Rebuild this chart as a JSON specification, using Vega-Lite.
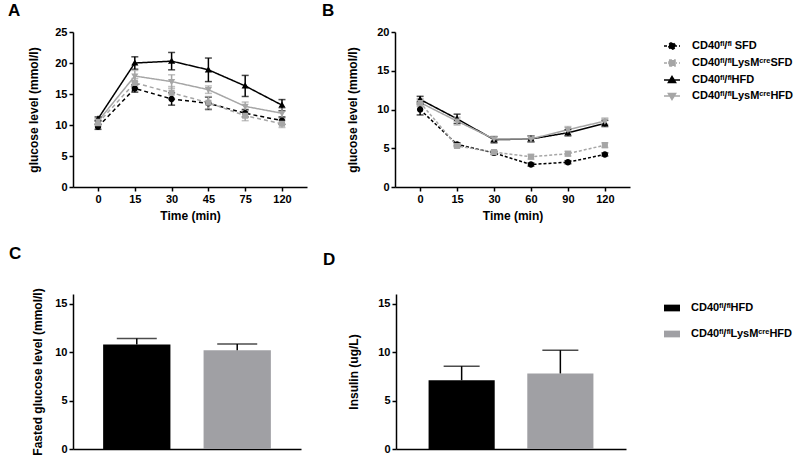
{
  "$schema": "https://vega.github.io/schema/vega-lite/v6.json",
  "background": "white",
  "padding": {"left": 8, "top": 2, "right": 5, "bottom": 5},
  "datasets": {
    "ogtt": [
      {"time": "0", "group": "CD40\u1da0\u02e1/\u1da0\u02e1 SFD", "mean": 9.7, "err": 0.4},
      {"time": "15", "group": "CD40\u1da0\u02e1/\u1da0\u02e1 SFD", "mean": 15.9, "err": 0.6},
      {"time": "30", "group": "CD40\u1da0\u02e1/\u1da0\u02e1 SFD", "mean": 14.2, "err": 1.0},
      {"time": "45", "group": "CD40\u1da0\u02e1/\u1da0\u02e1 SFD", "mean": 13.5, "err": 1.0},
      {"time": "75", "group": "CD40\u1da0\u02e1/\u1da0\u02e1 SFD", "mean": 11.9, "err": 0.6},
      {"time": "120", "group": "CD40\u1da0\u02e1/\u1da0\u02e1 SFD", "mean": 10.7, "err": 0.6},
      {"time": "0", "group": "CD40\u1da0\u02e1/\u1da0\u02e1LysM\u1d9c\u02b3\u1d49SFD", "mean": 10.3, "err": 0.4},
      {"time": "15", "group": "CD40\u1da0\u02e1/\u1da0\u02e1LysM\u1d9c\u02b3\u1d49SFD", "mean": 16.8, "err": 0.7},
      {"time": "30", "group": "CD40\u1da0\u02e1/\u1da0\u02e1LysM\u1d9c\u02b3\u1d49SFD", "mean": 15.2, "err": 1.0},
      {"time": "45", "group": "CD40\u1da0\u02e1/\u1da0\u02e1LysM\u1d9c\u02b3\u1d49SFD", "mean": 13.6, "err": 1.0},
      {"time": "75", "group": "CD40\u1da0\u02e1/\u1da0\u02e1LysM\u1d9c\u02b3\u1d49SFD", "mean": 11.5, "err": 0.8},
      {"time": "120", "group": "CD40\u1da0\u02e1/\u1da0\u02e1LysM\u1d9c\u02b3\u1d49SFD", "mean": 10.2, "err": 0.6},
      {"time": "0", "group": "CD40\u1da0\u02e1/\u1da0\u02e1HFD", "mean": 11.0, "err": 0.3},
      {"time": "15", "group": "CD40\u1da0\u02e1/\u1da0\u02e1HFD", "mean": 20.0, "err": 1.0},
      {"time": "30", "group": "CD40\u1da0\u02e1/\u1da0\u02e1HFD", "mean": 20.3, "err": 1.4},
      {"time": "45", "group": "CD40\u1da0\u02e1/\u1da0\u02e1HFD", "mean": 18.9, "err": 1.9},
      {"time": "75", "group": "CD40\u1da0\u02e1/\u1da0\u02e1HFD", "mean": 16.3, "err": 1.7},
      {"time": "120", "group": "CD40\u1da0\u02e1/\u1da0\u02e1HFD", "mean": 13.2, "err": 0.9},
      {"time": "0", "group": "CD40\u1da0\u02e1/\u1da0\u02e1LysM\u1d9c\u02b3\u1d49HFD", "mean": 10.6, "err": 0.4},
      {"time": "15", "group": "CD40\u1da0\u02e1/\u1da0\u02e1LysM\u1d9c\u02b3\u1d49HFD", "mean": 17.9, "err": 0.9},
      {"time": "30", "group": "CD40\u1da0\u02e1/\u1da0\u02e1LysM\u1d9c\u02b3\u1d49HFD", "mean": 17.0, "err": 1.1},
      {"time": "45", "group": "CD40\u1da0\u02e1/\u1da0\u02e1LysM\u1d9c\u02b3\u1d49HFD", "mean": 15.7, "err": 0.6},
      {"time": "75", "group": "CD40\u1da0\u02e1/\u1da0\u02e1LysM\u1d9c\u02b3\u1d49HFD", "mean": 13.0, "err": 0.7},
      {"time": "120", "group": "CD40\u1da0\u02e1/\u1da0\u02e1LysM\u1d9c\u02b3\u1d49HFD", "mean": 11.9, "err": 0.8}
    ],
    "itt": [
      {"time": "0", "group": "CD40\u1da0\u02e1/\u1da0\u02e1 SFD", "mean": 10.0, "err": 0.7},
      {"time": "15", "group": "CD40\u1da0\u02e1/\u1da0\u02e1 SFD", "mean": 5.5, "err": 0.2},
      {"time": "30", "group": "CD40\u1da0\u02e1/\u1da0\u02e1 SFD", "mean": 4.4, "err": 0.2},
      {"time": "60", "group": "CD40\u1da0\u02e1/\u1da0\u02e1 SFD", "mean": 2.9, "err": 0.2},
      {"time": "90", "group": "CD40\u1da0\u02e1/\u1da0\u02e1 SFD", "mean": 3.2, "err": 0.2},
      {"time": "120", "group": "CD40\u1da0\u02e1/\u1da0\u02e1 SFD", "mean": 4.2, "err": 0.2},
      {"time": "0", "group": "CD40\u1da0\u02e1/\u1da0\u02e1LysM\u1d9c\u02b3\u1d49SFD", "mean": 10.9, "err": 0.5},
      {"time": "15", "group": "CD40\u1da0\u02e1/\u1da0\u02e1LysM\u1d9c\u02b3\u1d49SFD", "mean": 5.3, "err": 0.2},
      {"time": "30", "group": "CD40\u1da0\u02e1/\u1da0\u02e1LysM\u1d9c\u02b3\u1d49SFD", "mean": 4.5, "err": 0.2},
      {"time": "60", "group": "CD40\u1da0\u02e1/\u1da0\u02e1LysM\u1d9c\u02b3\u1d49SFD", "mean": 3.9, "err": 0.3},
      {"time": "90", "group": "CD40\u1da0\u02e1/\u1da0\u02e1LysM\u1d9c\u02b3\u1d49SFD", "mean": 4.3, "err": 0.3},
      {"time": "120", "group": "CD40\u1da0\u02e1/\u1da0\u02e1LysM\u1d9c\u02b3\u1d49SFD", "mean": 5.4, "err": 0.3},
      {"time": "0", "group": "CD40\u1da0\u02e1/\u1da0\u02e1HFD", "mean": 11.3, "err": 0.4},
      {"time": "15", "group": "CD40\u1da0\u02e1/\u1da0\u02e1HFD", "mean": 8.8, "err": 0.6},
      {"time": "30", "group": "CD40\u1da0\u02e1/\u1da0\u02e1HFD", "mean": 6.1, "err": 0.4},
      {"time": "60", "group": "CD40\u1da0\u02e1/\u1da0\u02e1HFD", "mean": 6.2, "err": 0.4},
      {"time": "90", "group": "CD40\u1da0\u02e1/\u1da0\u02e1HFD", "mean": 7.0, "err": 0.4},
      {"time": "120", "group": "CD40\u1da0\u02e1/\u1da0\u02e1HFD", "mean": 8.2, "err": 0.4},
      {"time": "0", "group": "CD40\u1da0\u02e1/\u1da0\u02e1LysM\u1d9c\u02b3\u1d49HFD", "mean": 10.9, "err": 0.4},
      {"time": "15", "group": "CD40\u1da0\u02e1/\u1da0\u02e1LysM\u1d9c\u02b3\u1d49HFD", "mean": 8.5, "err": 0.5},
      {"time": "30", "group": "CD40\u1da0\u02e1/\u1da0\u02e1LysM\u1d9c\u02b3\u1d49HFD", "mean": 6.2, "err": 0.3},
      {"time": "60", "group": "CD40\u1da0\u02e1/\u1da0\u02e1LysM\u1d9c\u02b3\u1d49HFD", "mean": 6.2, "err": 0.4},
      {"time": "90", "group": "CD40\u1da0\u02e1/\u1da0\u02e1LysM\u1d9c\u02b3\u1d49HFD", "mean": 7.4, "err": 0.4},
      {"time": "120", "group": "CD40\u1da0\u02e1/\u1da0\u02e1LysM\u1d9c\u02b3\u1d49HFD", "mean": 8.5, "err": 0.4}
    ],
    "fasting": [
      {"group": "CD40\u1da0\u02e1/\u1da0\u02e1HFD", "mean": 10.8, "hi": 11.4},
      {"group": "CD40\u1da0\u02e1/\u1da0\u02e1LysM\u1d9c\u02b3\u1d49HFD", "mean": 10.2, "hi": 10.85}
    ],
    "insulin": [
      {"group": "CD40\u1da0\u02e1/\u1da0\u02e1HFD", "mean": 7.1, "hi": 8.55},
      {"group": "CD40\u1da0\u02e1/\u1da0\u02e1LysM\u1d9c\u02b3\u1d49HFD", "mean": 7.8, "hi": 10.2}
    ]
  },
  "config": {
    "view": {"stroke": null},
    "font": "Liberation Sans",
    "axis": {
      "labelFont": "Liberation Sans", "labelFontSize": 11, "labelFontWeight": "bold", "labelColor": "black",
      "titleFont": "Liberation Sans", "titleFontSize": 12, "titleFontWeight": "bold", "titleColor": "black",
      "domainColor": "black", "domainWidth": 1.5, "tickColor": "black", "tickWidth": 1.5, "tickSize": 4,
      "grid": false, "labelPadding": 2
    },
    "legend": {"labelFont": "Liberation Sans", "labelFontSize": 11, "labelFontWeight": "bold", "labelColor": "black", "labelLimit": 300},
    "title": {"font": "Liberation Sans", "fontSize": 17, "fontWeight": "bold", "color": "black", "anchor": "start", "frame": "group"}
  },
  "spacing": 23,
  "resolve": {"scale": {"color": "independent", "shape": "independent", "strokeDash": "independent", "x": "independent", "y": "independent"}, "legend": {"color": "independent"}},
  "vconcat": [
    {
      "spacing": 15,
      "resolve": {"scale": {"color": "independent", "shape": "independent", "strokeDash": "independent", "x": "independent", "y": "independent"}, "legend": {"color": "independent", "shape": "independent", "strokeDash": "independent"}},
      "hconcat": [
        {
          "title": {"text": "A", "dx": -65, "offset": 6},
          "width": 234, "height": 155,
          "data": {"name": "ogtt"},
          "encoding": {
            "x": {"field": "time", "type": "ordinal", "sort": null, "scale": {"type": "point", "padding": 0.68}, "axis": {"title": "Time (min)", "labelAngle": 0, "titlePadding": 6}},
            "y": {"field": "mean", "type": "quantitative", "title": "glucose level (mmol/l)", "scale": {"domain": [0, 25]}, "axis": {"values": [0, 5, 10, 15, 20, 25], "titlePadding": 14}},
            "color": {"field": "group", "type": "nominal", "sort": null, "scale": {"domain": ["CD40\u1da0\u02e1/\u1da0\u02e1 SFD", "CD40\u1da0\u02e1/\u1da0\u02e1LysM\u1d9c\u02b3\u1d49SFD", "CD40\u1da0\u02e1/\u1da0\u02e1HFD", "CD40\u1da0\u02e1/\u1da0\u02e1LysM\u1d9c\u02b3\u1d49HFD"], "range": ["#000000", "#a6a6a6", "#000000", "#a6a6a6"]}, "legend": null}
          },
          "layer": [
            {"mark": {"type": "line", "strokeWidth": 1.5}, "encoding": {"strokeDash": {"field": "group", "type": "nominal", "scale": {"domain": ["CD40\u1da0\u02e1/\u1da0\u02e1 SFD", "CD40\u1da0\u02e1/\u1da0\u02e1LysM\u1d9c\u02b3\u1d49SFD", "CD40\u1da0\u02e1/\u1da0\u02e1HFD", "CD40\u1da0\u02e1/\u1da0\u02e1LysM\u1d9c\u02b3\u1d49HFD"], "range": [[4, 3], [4, 3], [1, 0], [1, 0]]}, "legend": null}}},
            {"mark": {"type": "errorbar", "ticks": {"size": 7}, "thickness": 1.5}, "encoding": {"yError": {"field": "err"}}},
            {"mark": {"type": "point", "filled": true, "opacity": 1, "size": 256, "strokeWidth": 0}, "encoding": {"shape": {"field": "group", "type": "nominal", "scale": {"domain": ["CD40\u1da0\u02e1/\u1da0\u02e1 SFD", "CD40\u1da0\u02e1/\u1da0\u02e1LysM\u1d9c\u02b3\u1d49SFD", "CD40\u1da0\u02e1/\u1da0\u02e1HFD", "CD40\u1da0\u02e1/\u1da0\u02e1LysM\u1d9c\u02b3\u1d49HFD"], "range": ["M-1,0H1M-0.4,0A0.4,0.4,0,1,0,0.4,0A0.4,0.4,0,1,0,-0.4,0Z", "M-1,0H1M-0.38,-0.38H0.38V0.38H-0.38Z", "M-1,0H1M0,-0.45L0.45,0.32H-0.45Z", "M-1,0H1M0,0.45L0.45,-0.32H-0.45Z"]}, "legend": null}}}
          ]
        },
        {
          "title": {"text": "B", "dx": -73, "offset": 6},
          "width": 235, "height": 155,
          "data": {"name": "itt"},
          "encoding": {
            "x": {"field": "time", "type": "ordinal", "sort": null, "scale": {"type": "point", "padding": 0.68}, "axis": {"title": "Time (min)", "labelAngle": 0, "titlePadding": 6}},
            "y": {"field": "mean", "type": "quantitative", "title": "glucose level (mmol/l)", "scale": {"domain": [0, 20]}, "axis": {"values": [0, 5, 10, 15, 20], "titlePadding": 17}},
            "color": {"field": "group", "type": "nominal", "sort": null, "scale": {"domain": ["CD40\u1da0\u02e1/\u1da0\u02e1 SFD", "CD40\u1da0\u02e1/\u1da0\u02e1LysM\u1d9c\u02b3\u1d49SFD", "CD40\u1da0\u02e1/\u1da0\u02e1HFD", "CD40\u1da0\u02e1/\u1da0\u02e1LysM\u1d9c\u02b3\u1d49HFD"], "range": ["#000000", "#a6a6a6", "#000000", "#a6a6a6"]},
              "legend": {"orient": "none", "legendX": 268, "legendY": 5, "title": null, "padding": 0, "symbolSize": 256, "rowPadding": 1, "labelOffset": 11, "symbolStrokeWidth": 1.5, "symbolOpacity": 1}}
          },
          "layer": [
            {"mark": {"type": "line", "strokeWidth": 1.5}, "encoding": {"strokeDash": {"field": "group", "type": "nominal", "scale": {"domain": ["CD40\u1da0\u02e1/\u1da0\u02e1 SFD", "CD40\u1da0\u02e1/\u1da0\u02e1LysM\u1d9c\u02b3\u1d49SFD", "CD40\u1da0\u02e1/\u1da0\u02e1HFD", "CD40\u1da0\u02e1/\u1da0\u02e1LysM\u1d9c\u02b3\u1d49HFD"], "range": [[3, 2], [3, 2], [1, 0], [1, 0]]}, "legend": null}}},
            {"mark": {"type": "errorbar", "ticks": {"size": 7}, "thickness": 1.5}, "encoding": {"yError": {"field": "err"}}},
            {"mark": {"type": "point", "filled": true, "opacity": 1, "size": 256, "strokeWidth": 0}, "encoding": {"shape": {"field": "group", "type": "nominal", "scale": {"domain": ["CD40\u1da0\u02e1/\u1da0\u02e1 SFD", "CD40\u1da0\u02e1/\u1da0\u02e1LysM\u1d9c\u02b3\u1d49SFD", "CD40\u1da0\u02e1/\u1da0\u02e1HFD", "CD40\u1da0\u02e1/\u1da0\u02e1LysM\u1d9c\u02b3\u1d49HFD"], "range": ["M-1,0H1M-0.4,0A0.4,0.4,0,1,0,0.4,0A0.4,0.4,0,1,0,-0.4,0Z", "M-1,0H1M-0.38,-0.38H0.38V0.38H-0.38Z", "M-1,0H1M0,-0.45L0.45,0.32H-0.45Z", "M-1,0H1M0,0.45L0.45,-0.32H-0.45Z"]}, "legend": null}}}
          ]
        }
      ]
    },
    {
      "spacing": 22,
      "resolve": {"scale": {"color": "independent", "x": "independent", "y": "independent"}, "legend": {"color": "independent"}},
      "hconcat": [
        {
          "title": {"text": "C", "dx": -64, "offset": 25},
          "width": 228, "height": 155,
          "data": {"name": "fasting"},
          "encoding": {
            "x": {"field": "group", "type": "nominal", "sort": null, "scale": {"paddingInner": 0.33, "paddingOuter": 0.3}, "axis": {"title": null, "labels": false, "ticks": false}}
          },
          "layer": [
            {"mark": {"type": "bar"}, "encoding": {
              "y": {"field": "mean", "type": "quantitative", "title": "Fasted glucose level (mmol/l)", "scale": {"domain": [0, 15]}, "axis": {"values": [0, 5, 10, 15], "titlePadding": 10}},
              "color": {"field": "group", "type": "nominal", "sort": null, "scale": {"range": ["#000000", "#a0a0a4"]}, "legend": null}}},
            {"mark": {"type": "rule", "strokeWidth": 1.5, "color": "black"}, "encoding": {"y": {"field": "mean", "type": "quantitative", "title": "Fasted glucose level (mmol/l)"}, "y2": {"field": "hi"}}},
            {"mark": {"type": "tick", "color": "black", "thickness": 1.5, "size": 40}, "encoding": {"y": {"field": "hi", "type": "quantitative", "title": "Fasted glucose level (mmol/l)"}}}
          ]
        },
        {
          "title": {"text": "D", "dx": -73, "offset": 25},
          "width": 230, "height": 155,
          "data": {"name": "insulin"},
          "encoding": {
            "x": {"field": "group", "type": "nominal", "sort": null, "scale": {"paddingInner": 0.33, "paddingOuter": 0.33}, "axis": {"title": null, "labels": false, "ticks": false}}
          },
          "layer": [
            {"mark": {"type": "bar"}, "encoding": {
              "y": {"field": "mean", "type": "quantitative", "title": "Insulin (ug/L)", "scale": {"domain": [0, 15]}, "axis": {"values": [0, 5, 10, 15], "titlePadding": 17}},
              "color": {"field": "group", "type": "nominal", "sort": null, "scale": {"range": ["#000000", "#a0a0a4"]},
                "legend": {"orient": "none", "legendX": 268, "legendY": 6, "title": null, "padding": 0, "symbolSize": 256, "rowPadding": 13, "labelOffset": 11, "symbolType": "M-1,-0.42H1V0.42H-1Z", "symbolStrokeWidth": 0, "symbolOpacity": 1}}}},
            {"mark": {"type": "rule", "strokeWidth": 1.5, "color": "black"}, "encoding": {"y": {"field": "mean", "type": "quantitative", "title": "Insulin (ug/L)"}, "y2": {"field": "hi"}}},
            {"mark": {"type": "tick", "color": "black", "thickness": 1.5, "size": 36}, "encoding": {"y": {"field": "hi", "type": "quantitative", "title": "Insulin (ug/L)"}}}
          ]
        }
      ]
    }
  ]
}
